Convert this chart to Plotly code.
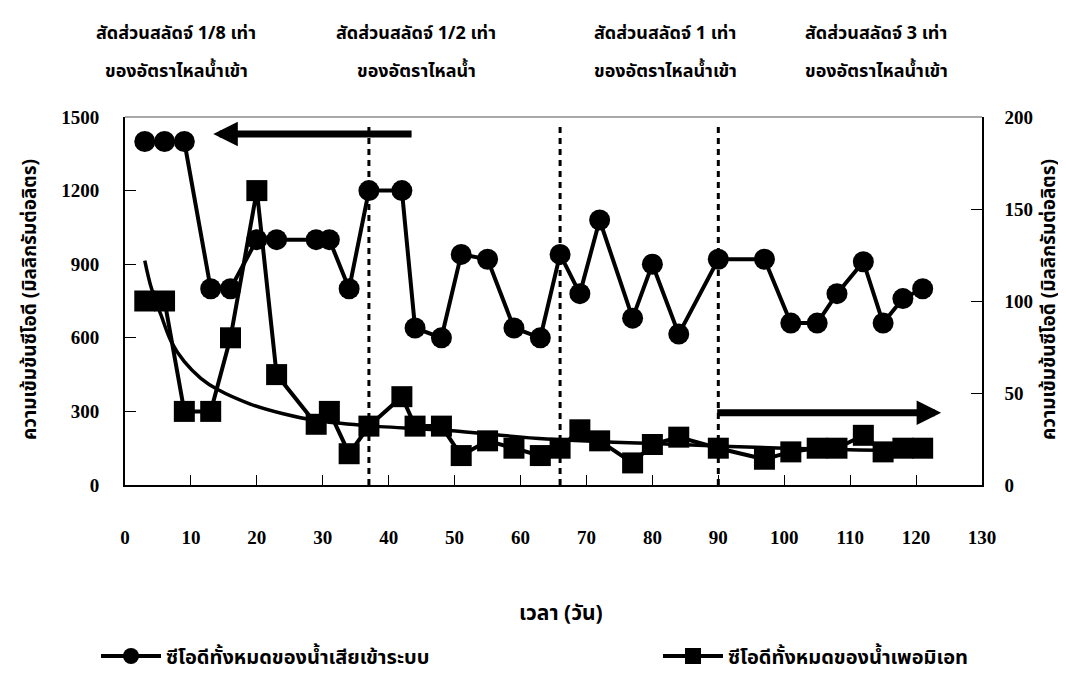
import plotly.graph_objects as go

# ---- data ----
days = [3, 6, 9, 13, 16, 20, 23, 29, 31, 34, 37, 42, 44, 48, 51, 55, 59, 63, 66, 69,
        72, 77, 80, 84, 90, 97, 101, 105, 108, 112, 115, 118, 121]
cod_influent = [1400, 1400, 1400, 800, 800, 1000, 1000, 1000, 1000, 800, 1200, 1200, 640,
                600, 940, 920, 640, 600, 940, 780, 1080, 680, 900, 615, 920, 920, 660, 660,
                780, 910, 660, 760, 800]
cod_permeate = [100, 100, 40, 40, 80, 160, 60, 33, 40, 17, 32, 48, 32, 32, 16, 24, 20, 16,
                20, 30, 24, 12, 22, 26, 20, 14, 18, 20, 20, 27, 18, 20, 20]
trend_days = [3, 4, 5.5, 7, 9, 11.5, 14, 19, 24, 29, 36, 49, 64, 84, 100, 121]
trend_vals = [122, 107, 92, 78, 67, 58, 52, 44, 38.7, 35, 32.4, 29.6, 25, 22, 20, 18.5]
phase_bounds = [37, 66, 90]
phase_line1 = ["สัดส่วนสลัดจ์ 1/8 เท่า", "สัดส่วนสลัดจ์ 1/2 เท่า",
               "สัดส่วนสลัดจ์ 1 เท่า", "สัดส่วนสลัดจ์ 3 เท่า"]
phase_line2 = ["ของอัตราไหลน้ำเข้า", "ของอัตราไหลน้ำ",
               "ของอัตราไหลน้ำเข้า", "ของอัตราไหลน้ำเข้า"]
phase_label_x = [168, 408, 657, 868]  # pixel centres
name_in = "ซีโอดีทั้งหมดของน้ำเสียเข้าระบบ"
name_perm = "ซีโอดีทั้งหมดของน้ำเพอมิเอท"
ytitle = "ความเข้มข้นซีโอดี (มิลลิกรัมต่อลิตร)"
xtitle = "เวลา (วัน)"
x_ticks = list(range(0, 131, 10))
y_ticks = [0, 300, 600, 900, 1200, 1500]
y2_ticks = [0, 50, 100, 150, 200]

W, H = 1066, 673
L, R, T, B = 117, 92, 109, 196
PW, PH = W - L - R, H - T - B


def px_x(p):
    return (p - L) / PW


def px_y(p):
    return (H - B - p) / PH


THAI = "Noto Sans Thai, Noto Serif Thai, Loma, Garuda, Norasi, Tlwg Typo, sans-serif"
NUM = "Liberation Serif, Times New Roman, serif"

fig = go.Figure()
fig.add_trace(go.Scatter(
    x=days, y=cod_influent, name=name_in, mode="lines+markers", legend="legend",
    line=dict(color="black", width=4),
    marker=dict(symbol="circle", size=21, color="black"),
))
fig.add_trace(go.Scatter(
    x=days, y=cod_permeate, name=name_perm, mode="lines+markers", yaxis="y2",
    legend="legend2",
    line=dict(color="black", width=4),
    marker=dict(symbol="square", size=21, color="black"),
))
fig.add_trace(go.Scatter(
    x=trend_days, y=trend_vals, mode="lines", yaxis="y2", showlegend=False,
    line=dict(color="black", width=3.5, shape="spline", smoothing=1.0),
    hoverinfo="skip",
))

shapes = []
for xb in phase_bounds:
    shapes.append(dict(type="line", xref="x", yref="paper", x0=xb, x1=xb, y0=0, y1=0.975,
                       line=dict(color="black", width=3, dash="6px,5px")))
shapes.append(dict(type="line", xref="paper", yref="paper", x0=0, x1=1, y0=1, y1=1,
                   line=dict(color="#555555", width=1.2)))

annotations = []
for l1, l2, px in zip(phase_line1, phase_line2, phase_label_x):
    for txt, py in ((l1, 25), (l2, 63)):
        annotations.append(dict(text="<b>" + txt + "</b>", xref="paper", yref="paper",
                                x=px_x(px), y=px_y(py),
                                xanchor="center", yanchor="middle", showarrow=False,
                                font=dict(family=THAI, size=18, color="black")))
# arrows
annotations.append(dict(x=13.4, y=1431, ax=43.7, ay=1431, xref="x", yref="y", axref="x", ayref="y",
                        text="", showarrow=True, arrowhead=2, arrowwidth=7, arrowsize=0.7,
                        arrowcolor="black", standoff=0, startstandoff=0))
annotations.append(dict(x=123.8, y=39.3, ax=89.6, ay=39.3, xref="x", yref="y2", axref="x", ayref="y2",
                        text="", showarrow=True, arrowhead=2, arrowwidth=7, arrowsize=0.7,
                        arrowcolor="black", standoff=0, startstandoff=0))
# axis titles
for xp in (22, 1041):
    annotations.append(dict(text="<b>" + ytitle + "</b>", xref="paper", yref="paper",
                            x=px_x(xp), y=px_y(292), textangle=-90, showarrow=False,
                            xanchor="center", yanchor="middle",
                            font=dict(family=THAI, size=19, color="black")))
annotations.append(dict(text="<b>" + xtitle + "</b>", xref="paper", yref="paper",
                        x=px_x(553), y=px_y(605), showarrow=False,
                        xanchor="center", yanchor="middle",
                        font=dict(family=THAI, size=21, color="black")))

legend_common = dict(orientation="h", xanchor="left", yanchor="middle",
                     font=dict(family=THAI, size=20, color="black", weight="bold"),
                     itemwidth=60, bgcolor="rgba(0,0,0,0)")

fig.update_layout(
    width=W, height=H,
    margin=dict(l=L, r=R, t=T, b=B, autoexpand=False),
    paper_bgcolor="white", plot_bgcolor="white",
    showlegend=True,
    legend=dict(x=px_x(88), y=px_y(648), **legend_common),
    legend2=dict(x=px_x(650), y=px_y(648), **legend_common),
    xaxis=dict(range=[0, 130], tickvals=x_ticks, ticks="inside", ticklen=10,
               tickcolor="black", tickwidth=1, showline=True, linecolor="black",
               linewidth=2, showgrid=False, zeroline=False, ticklabelstandoff=34,
               tickfont=dict(family=NUM, size=19, color="black", weight="bold")),
    yaxis=dict(range=[0, 1500], tickvals=y_ticks, ticks="inside", ticklen=11,
               tickcolor="black", tickwidth=1, showline=True, linecolor="black",
               linewidth=2, showgrid=False, zeroline=False, ticklabelstandoff=20,
               tickfont=dict(family=NUM, size=19, color="black", weight="bold")),
    yaxis2=dict(range=[0, 200], tickvals=y2_ticks, overlaying="y", side="right",
                ticks="inside", ticklen=11, tickcolor="black", tickwidth=1,
                showline=True, linecolor="black", linewidth=1.5, showgrid=False,
                zeroline=False, ticklabelstandoff=17,
                tickfont=dict(family=NUM, size=19, color="black", weight="bold")),
    shapes=shapes,
    annotations=annotations,
)

fig.write_html("out.html")
